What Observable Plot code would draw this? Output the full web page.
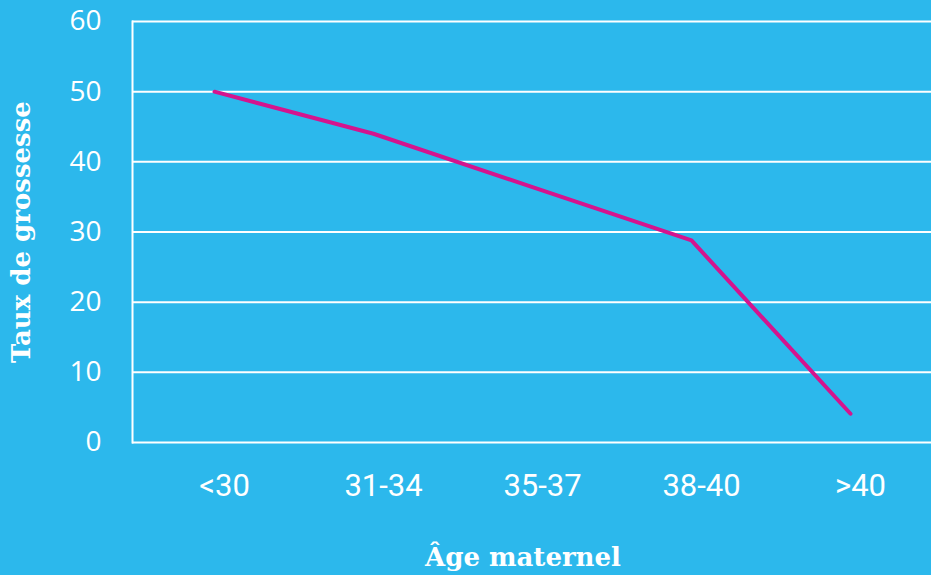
<!DOCTYPE html>
<html>
<head>
<meta charset="utf-8">
<script src="https://cdn.jsdelivr.net/npm/d3@7"></script>
<script src="https://cdn.jsdelivr.net/npm/@observablehq/plot@0.6"></script>
<style>
  html, body { margin: 0; padding: 0; background: #2cb8ec; }
  #chart svg { display: block; }
</style>
</head>
<body>
<div id="chart"></div>
<script>
const categories = ["<30", "31-34", "35-37", "38-40", ">40"];
const rates = [50.0, 44.0, 36.4, 28.8, 4.1];
const yTicks = [0, 10, 20, 30, 40, 50, 60];

const data = categories.map((c, i) => ({age: c, rate: rates[i]}));

const chart = Plot.plot({
  width: 931,
  height: 575,
  marginLeft: 132,
  marginRight: 0,
  marginTop: 21,
  marginBottom: 133,
  style: {background: "#2cb8ec", color: "white", overflow: "visible"},
  x: {type: "point", domain: categories, padding: 0.5, label: null},
  y: {domain: [0, 60], label: null},
  marks: [
    Plot.ruleY(yTicks, {stroke: "white", strokeWidth: 2, strokeOpacity: 1}),
    Plot.frame({anchor: "left", stroke: "white", strokeWidth: 2}),
    Plot.axisY(yTicks, {tickSize: 0, tickPadding: 31, fontSize: 28, fontFamily: "Open Sans", fill: "white", label: null}),
    Plot.axisX({tickSize: 0, tickPadding: 31, dx: 10, fontSize: 31, fontFamily: "Roboto", fill: "white", label: null}),
    Plot.line(data, {x: "age", y: "rate", stroke: "#d4148e", strokeWidth: 4, strokeLinejoin: "round", strokeLinecap: "round"}),
    Plot.text(["Âge maternel"], {frameAnchor: "bottom", dx: -9, dy: 123, text: d => d, fill: "white", fontSize: 26, fontWeight: "bold", fontFamily: "DejaVu Serif"}),
    Plot.text(["Taux de grossesse"], {frameAnchor: "left", textAnchor: "middle", dx: -111, rotate: -90, text: d => d, fill: "white", fontSize: 26, fontWeight: "bold", fontFamily: "DejaVu Serif"})
  ]
});
document.getElementById("chart").appendChild(chart);
</script>
</body>
</html>
